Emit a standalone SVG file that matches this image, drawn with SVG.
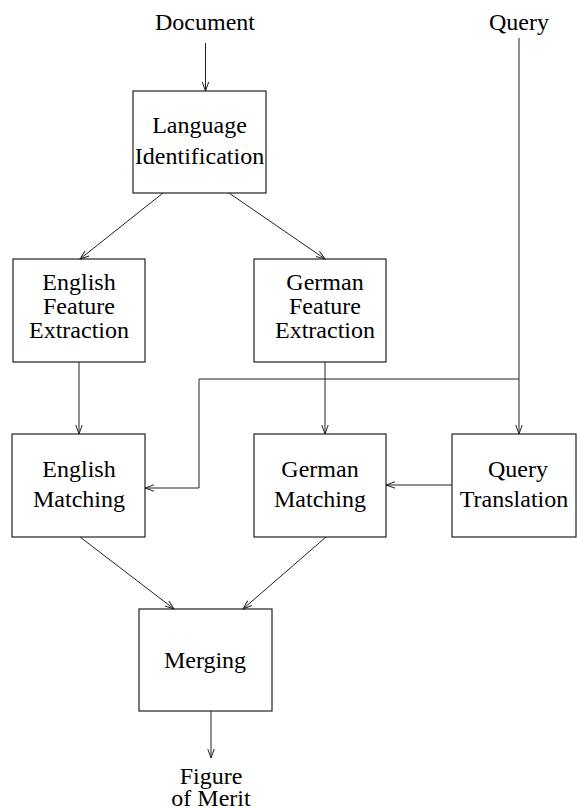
<svg xmlns="http://www.w3.org/2000/svg" width="577" height="808" viewBox="0 0 577 808">
<style>
.box{fill:#fff;stroke:#222;stroke-width:1.2}
.t{font-family:"Liberation Serif","Times New Roman",serif;font-size:24px;fill:#000;text-anchor:middle}
.c{fill:none;stroke:#222;stroke-width:1}
</style>
<defs>
<marker id="a" markerWidth="10" markerHeight="8" refX="9" refY="4" orient="auto" markerUnits="userSpaceOnUse">
<path d="M0,0.8 L9,4 L0,7.2" fill="none" stroke="#222" stroke-width="1"/>
</marker>
</defs>
<rect width="577" height="808" fill="#fff"/>
<g id="document"><text class="t" x="205" y="30">Document</text></g>
<g id="query"><text class="t" x="519" y="30">Query</text></g>
<g id="langid"><rect class="box" x="133" y="91" width="133" height="102"/><text class="t" x="199.5" y="133">Language</text><text class="t" x="199.5" y="164">Identification</text></g>
<g id="engfe"><rect class="box" x="13" y="259" width="132" height="103"/><text class="t" x="79" y="290">English</text><text class="t" x="79" y="314">Feature</text><text class="t" x="79" y="338">Extraction</text></g>
<g id="gerfe"><rect class="box" x="254" y="259" width="132" height="103"/><text class="t" x="325" y="290">German</text><text class="t" x="325" y="314">Feature</text><text class="t" x="325" y="338">Extraction</text></g>
<g id="engm"><rect class="box" x="12" y="434" width="133" height="103"/><text class="t" x="79" y="477">English</text><text class="t" x="79" y="507">Matching</text></g>
<g id="germ"><rect class="box" x="254" y="434" width="132" height="103"/><text class="t" x="320" y="477">German</text><text class="t" x="320" y="507">Matching</text></g>
<g id="qt"><rect class="box" x="452" y="434" width="124" height="103"/><text class="t" x="518" y="477">Query</text><text class="t" x="514" y="507">Translation</text></g>
<g id="merging"><rect class="box" x="139" y="609" width="133" height="102"/><text class="t" x="205" y="668">Merging</text></g>
<g id="fom"><text class="t" x="211" y="784">Figure</text><text class="t" x="211" y="806">of Merit</text></g>
<g id="connectors">
<path class="c" d="M205.5,43 V91" marker-end="url(#a)"/>
<path class="c" d="M163,193 L80,259" marker-end="url(#a)"/>
<path class="c" d="M229,193 L325,259" marker-end="url(#a)"/>
<path class="c" d="M79,362 V434" marker-end="url(#a)"/>
<path class="c" d="M325,362 V434" marker-end="url(#a)"/>
<path class="c" d="M519,38 V434" marker-end="url(#a)"/>
<path class="c" d="M519,379 H199 V488 H145" marker-end="url(#a)"/>
<path class="c" d="M452,485 H386" marker-end="url(#a)"/>
<path class="c" d="M80,537 L174,609" marker-end="url(#a)"/>
<path class="c" d="M326,537 L243,609" marker-end="url(#a)"/>
<path class="c" d="M211,711 V758" marker-end="url(#a)"/>
</g>
</svg>
